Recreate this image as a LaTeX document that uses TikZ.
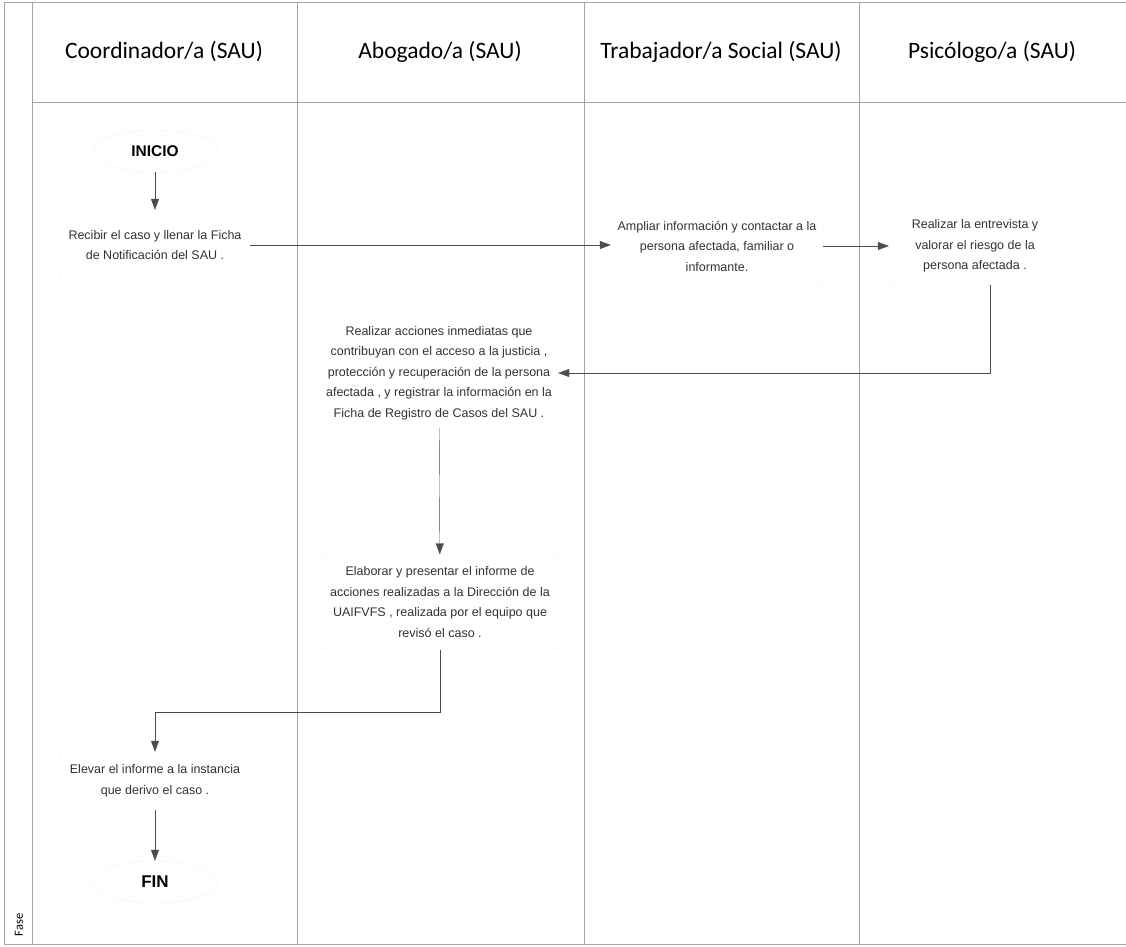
\documentclass[tikz,border=0pt]{standalone}
\usepackage{fontspec}
\setmainfont{Liberation Sans}
\newfontfamily\headfont{Carlito}
\usetikzlibrary{arrows.meta,shapes.geometric}
\colorlet{laneLine}{gray!70}
\colorlet{flowLine}{black!70}
\colorlet{boxEdge} {gray!10}
\colorlet{boxText} {black!80}

\begin{document}
\begin{tikzpicture}[x=1pt,y=-1pt,
    paso/.style={draw=boxEdge, rounded corners=2pt, align=center, inner sep=0pt,
                 text=boxText, font=\fontsize{12.5}{20.5}\selectfont},
    terminal/.style={ellipse, draw=boxEdge, minimum width=125, minimum height=42,
                 font=\bfseries\fontsize{15.5}{17}\selectfont},
    carril/.style={font=\headfont\fontsize{23.5}{26}\selectfont},
    flecha/.style={flowLine, -{Triangle[length=11pt,width=8pt]}}]
        \useasboundingbox(0,0) rectangle (1126,946);
        \fill[white](0,0) rectangle (1126,946);
        \draw[laneLine](4,2) rectangle (1126,944);
        \draw[laneLine](32,2)--(32,944);
        \draw[laneLine](297,2)--(297,944);
        \draw[laneLine](584,2)--(584,944);
        \draw[laneLine](859,2)--(859,944);
        \draw[laneLine](32,102)--(1126,102);
        \node[carril] (coord) at (164,52){Coordinador/a (SAU)};
        \node[carril] (abog)  at (440,52){Abogado/a (SAU)};
        \node[carril] (trab)  at (721,52){Trabajador/a Social (SAU)};
        \node[carril] (psic)  at (992,52){Psicólogo/a (SAU)};
        \node[rotate=90, font=\headfont\fontsize{12.5}{14}\selectfont] (fase) at (19,925){Fase};

        \node[terminal] (inicio) at (155,151){INICIO};
        \node[paso, minimum width=190, minimum height=70] (recibir) at (155,245)
              {Recibir el caso y llenar la Ficha\\de Notificación del SAU .};
        \node[paso, minimum width=212, minimum height=78] (ampliar) at (717,246)
              {Ampliar información y contactar a la\\persona afectada, familiar o\\informante.};
        \node[paso, minimum width=172, minimum height=78] (entrevista) at (975,246)
              {Realizar la entrevista y\\valorar el riesgo de la\\persona afectada .};
        \node[paso, minimum width=238, minimum height=110] (acciones) at (439,373)
              {Realizar acciones inmediatas que\\contribuyan con el acceso a la justicia ,\\protección y recuperación de la persona\\afectada , y registrar la información en la\\Ficha de Registro de Casos del SAU .};
        \node[paso, minimum width=240, minimum height=95] (elaborar) at (440,602)
              {Elaborar y presentar el informe de\\acciones realizadas a la Dirección de la\\UAIFVFS , realizada por el equipo que\\revisó el caso .};
        \node[paso, minimum width=190, minimum height=58] (elevar) at (155,781)
              {Elevar el informe a la instancia\\que derivo el caso .};
        \node[terminal, font=\bfseries\fontsize{17}{19}\selectfont] (fin) at (155,882){FIN};

        \draw[flecha](inicio)--(recibir);
        \draw[flecha](recibir.east)--(recibir.east -| ampliar.west);
        \draw[flecha](ampliar.east)--(ampliar.east -| entrevista.west);
        \draw[flecha]([xshift=15pt]entrevista.south) |- (acciones.east);
        \draw[flecha](acciones)--(elaborar);
        \draw[flecha](elaborar.south)--++(0,62) -| (elevar.north);
        \draw[flecha](elevar)--(fin);
      \end{tikzpicture}
\end{document}
